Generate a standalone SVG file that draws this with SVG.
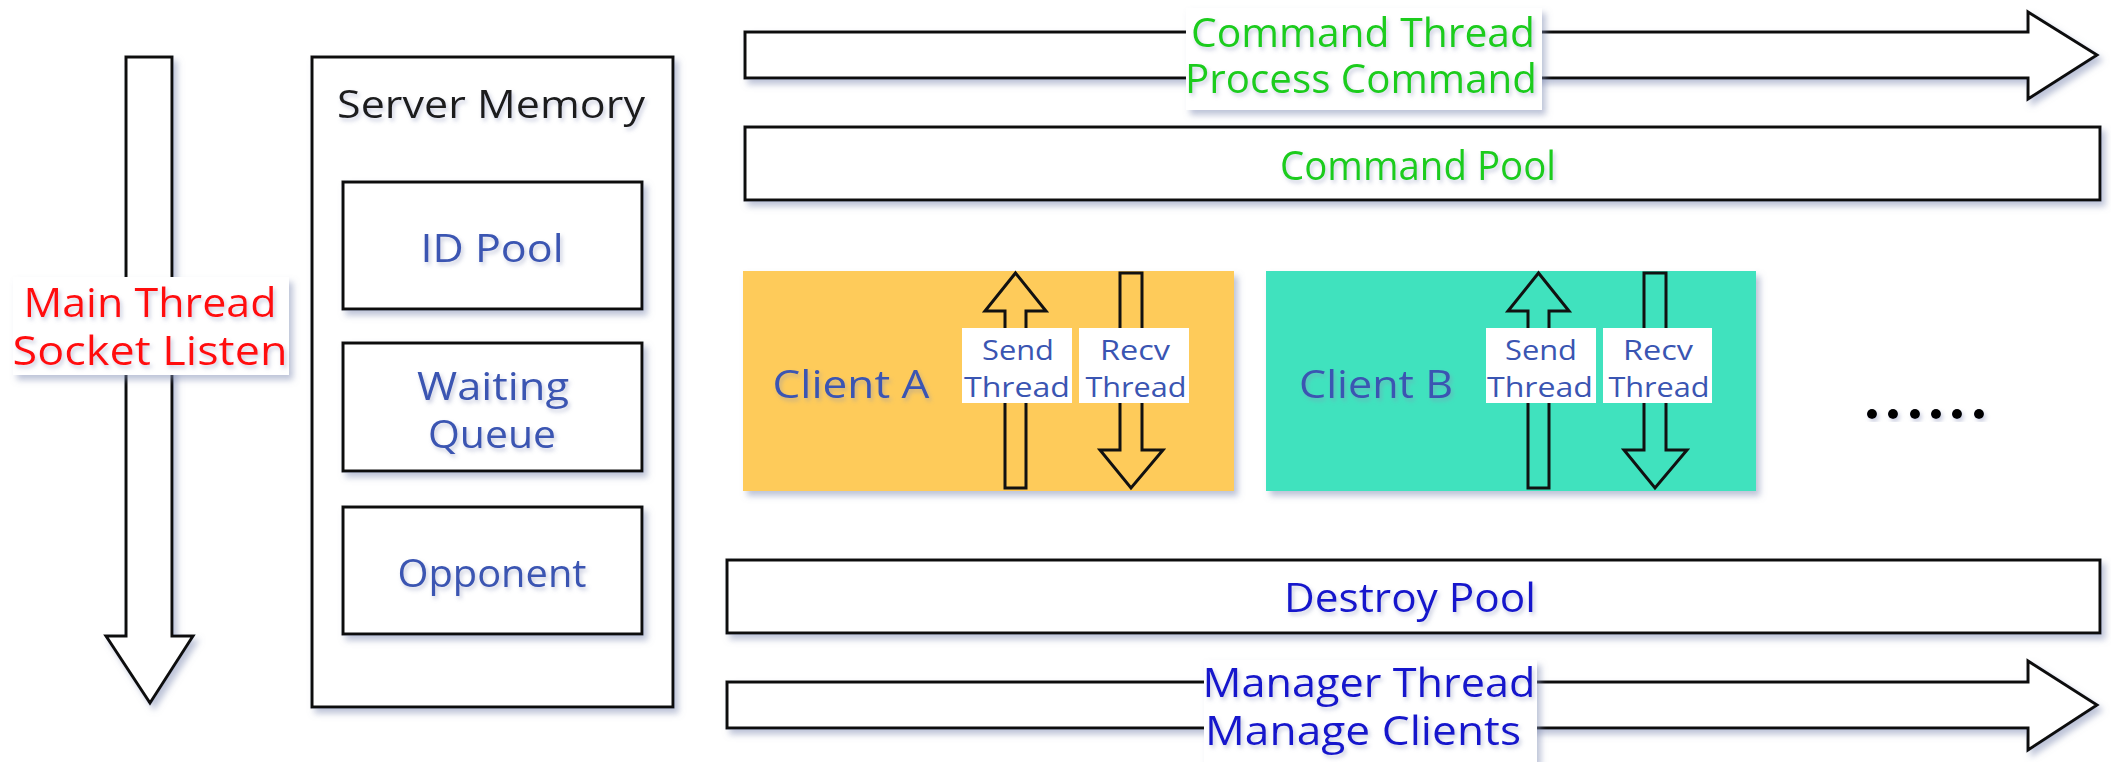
<svg xmlns="http://www.w3.org/2000/svg" width="2111" height="762" viewBox="0 0 2111 762">
  <defs>
    <filter id="shadow" x="-10%" y="-10%" width="130%" height="130%">
      <feDropShadow dx="4" dy="5" stdDeviation="3" flood-color="#7d88b0" flood-opacity="0.5"/>
    </filter>
    <filter id="tshadow" x="-10%" y="-20%" width="130%" height="150%">
      <feDropShadow dx="2" dy="3" stdDeviation="2" flood-color="#8890b8" flood-opacity="0.45"/>
    </filter>
    <style>
      .outline { fill: #ffffff; stroke: #111111; stroke-width: 3; stroke-linejoin: miter; }
      .tag { fill: #ffffff; }
      .lbl { font-family: "Open Sans", "DejaVu Sans", sans-serif; text-anchor: middle; }
      .dark { fill: #1e1e1e; font-size: 38px; }
      .mem { fill: #3a55b2; font-size: 38px; }
      .red { fill: #ff1010; font-size: 40px; }
      .green { fill: #1ccc1c; font-size: 40px; }
      .blue { fill: #1515cc; font-size: 40px; }
      .client { fill: #3a55b2; font-size: 38px; }
      .small { fill: #3a55b2; font-size: 28px; }
      .dot { fill: #000000; }
    </style>
  </defs>

  <!-- Main thread: vertical block arrow with its label -->
  <g id="main-thread">
    <polygon class="outline" filter="url(#shadow)" points="126,57 172,57 172,636 193,636 150,703 106,636 126,636"/>
    <rect class="tag" filter="url(#shadow)" x="13" y="277" width="276" height="98"/>
    <text class="lbl red" filter="url(#tshadow)" x="150" y="317" textLength="253" lengthAdjust="spacingAndGlyphs">Main Thread</text>
    <text class="lbl red" filter="url(#tshadow)" x="150" y="365" textLength="275" lengthAdjust="spacingAndGlyphs">Socket Listen</text>
  </g>

  <!-- Server memory and its stores -->
  <g id="server-memory">
    <rect class="outline" filter="url(#shadow)" x="312" y="57" width="361" height="650"/>
    <text class="lbl dark" filter="url(#tshadow)" x="491" y="118" textLength="308" lengthAdjust="spacingAndGlyphs">Server Memory</text>
  </g>
  <g id="id-pool">
    <rect class="outline" filter="url(#shadow)" x="343" y="182" width="299" height="127"/>
    <text class="lbl mem" filter="url(#tshadow)" x="492" y="262" textLength="143" lengthAdjust="spacingAndGlyphs">ID Pool</text>
  </g>
  <g id="waiting-queue">
    <rect class="outline" filter="url(#shadow)" x="343" y="343" width="299" height="128"/>
    <text class="lbl mem" filter="url(#tshadow)" x="493" y="400" textLength="152" lengthAdjust="spacingAndGlyphs">Waiting</text>
    <text class="lbl mem" filter="url(#tshadow)" x="492" y="448" textLength="128" lengthAdjust="spacingAndGlyphs">Queue</text>
  </g>
  <g id="opponent">
    <rect class="outline" filter="url(#shadow)" x="343" y="507" width="299" height="127"/>
    <text class="lbl mem" filter="url(#tshadow)" x="492" y="587" textLength="189" lengthAdjust="spacingAndGlyphs">Opponent</text>
  </g>

  <!-- Command thread arrow -->
  <g id="command-thread">
    <polygon class="outline" filter="url(#shadow)" points="745,32 2028,32 2028,12 2097,55 2028,99 2028,78 745,78"/>
    <rect class="tag" filter="url(#shadow)" x="1186" y="8" width="356" height="102"/>
    <text class="lbl green" filter="url(#tshadow)" x="1363" y="47" textLength="344" lengthAdjust="spacingAndGlyphs">Command Thread</text>
    <text class="lbl green" filter="url(#tshadow)" x="1361" y="93" textLength="352" lengthAdjust="spacingAndGlyphs">Process Command</text>
  </g>

  <g id="command-pool">
    <rect class="outline" filter="url(#shadow)" x="745" y="127" width="1355" height="73"/>
    <text class="lbl green" filter="url(#tshadow)" x="1418" y="180" textLength="276" lengthAdjust="spacingAndGlyphs">Command Pool</text>
  </g>

  <!-- Client A with its send / recv threads -->
  <g id="client-a">
    <rect x="743" y="271" width="491" height="220" fill="#fecb5a" filter="url(#shadow)"/>
    <text class="lbl client" filter="url(#tshadow)" x="851" y="398" textLength="157" lengthAdjust="spacingAndGlyphs">Client A</text>
    <polygon class="outline" fill="none" style="fill:none" points="1005,488 1005,311 985,311 1015.5,273 1046,311 1026,311 1026,488"/>
    <polygon class="outline" style="fill:none" points="1120,273 1142,273 1142,450 1163,450 1131,488 1100,450 1120,450"/>
    <rect class="tag" x="962" y="328" width="110" height="75"/>
    <rect class="tag" x="1079" y="328" width="110" height="75"/>
    <text class="lbl small" x="1018" y="360" textLength="72" lengthAdjust="spacingAndGlyphs">Send</text>
    <text class="lbl small" x="1017" y="397" textLength="106" lengthAdjust="spacingAndGlyphs">Thread</text>
    <text class="lbl small" x="1135" y="360" textLength="70" lengthAdjust="spacingAndGlyphs">Recv</text>
    <text class="lbl small" x="1136" y="397" textLength="101" lengthAdjust="spacingAndGlyphs">Thread</text>
  </g>

  <!-- Client B with its send / recv threads -->
  <g id="client-b">
    <rect x="1266" y="271" width="490" height="220" fill="#40e2be" filter="url(#shadow)"/>
    <text class="lbl client" filter="url(#tshadow)" x="1376" y="398" textLength="154" lengthAdjust="spacingAndGlyphs">Client B</text>
    <polygon class="outline" style="fill:none" points="1528,488 1528,311 1508,311 1538.5,273 1569,311 1549,311 1549,488"/>
    <polygon class="outline" style="fill:none" points="1644,273 1666,273 1666,450 1687,450 1655,488 1624,450 1644,450"/>
    <rect class="tag" x="1486" y="328" width="110" height="75"/>
    <rect class="tag" x="1603" y="328" width="109" height="75"/>
    <text class="lbl small" x="1541" y="360" textLength="72" lengthAdjust="spacingAndGlyphs">Send</text>
    <text class="lbl small" x="1540" y="397" textLength="106" lengthAdjust="spacingAndGlyphs">Thread</text>
    <text class="lbl small" x="1658" y="360" textLength="70" lengthAdjust="spacingAndGlyphs">Recv</text>
    <text class="lbl small" x="1659" y="397" textLength="101" lengthAdjust="spacingAndGlyphs">Thread</text>
  </g>

  <!-- more clients -->
  <g id="more-clients" filter="url(#tshadow)">
    <circle class="dot" cx="1872" cy="414" r="5"/>
    <circle class="dot" cx="1893" cy="414" r="5"/>
    <circle class="dot" cx="1915" cy="414" r="5"/>
    <circle class="dot" cx="1936" cy="414" r="5"/>
    <circle class="dot" cx="1957" cy="414" r="5"/>
    <circle class="dot" cx="1979" cy="414" r="5"/>
  </g>

  <g id="destroy-pool">
    <rect class="outline" filter="url(#shadow)" x="727" y="560" width="1373" height="73"/>
    <text class="lbl blue" filter="url(#tshadow)" x="1410" y="612" textLength="252" lengthAdjust="spacingAndGlyphs">Destroy Pool</text>
  </g>

  <!-- Manager thread arrow -->
  <g id="manager-thread">
    <polygon class="outline" filter="url(#shadow)" points="727,682 2028,682 2028,661 2097,705 2028,750 2028,728 727,728"/>
    <rect class="tag" filter="url(#shadow)" x="1204" y="660" width="333" height="102"/>
    <text class="lbl blue" filter="url(#tshadow)" x="1369" y="697" textLength="333" lengthAdjust="spacingAndGlyphs">Manager Thread</text>
    <text class="lbl blue" filter="url(#tshadow)" x="1363" y="745" textLength="316" lengthAdjust="spacingAndGlyphs">Manage Clients</text>
  </g>

  <g id="connectors"></g>
</svg>
